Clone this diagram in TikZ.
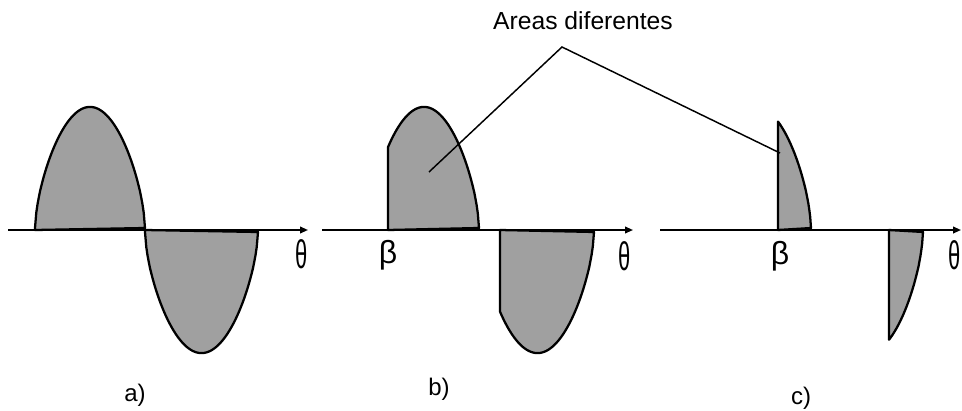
\documentclass[tikz,border=0pt]{standalone}
\usepackage{fontspec}
\setmainfont{Liberation Sans}
\usetikzlibrary{arrows.meta}
\definecolor{lobefill}{RGB}{160,160,160}
\begin{document}
\begin{tikzpicture}[x=0.75pt,y=-0.75pt,
  lobe/.style={fill=lobefill, draw=black, line width=1.7pt, line join=round},
  axisline/.style={draw=black, line width=1.3pt, -{Triangle[length=6pt,width=5pt]}},
  leader/.style={draw=black, line width=1.1pt},
  thetalbl/.style={font=\fontsize{30}{30}\selectfont, inner sep=0pt},
  betalbl/.style={font=\fontsize{24}{24}\selectfont, inner sep=0pt},
  caption/.style={font=\fontsize{18}{18}\selectfont, inner sep=0pt},
  titlelbl/.style={font=\fontsize{18.5}{18.5}\selectfont, inner sep=0pt},
  declare function={lob(\t)=123*exp(0.6*ln(abs(sin(\t))+0.001));}]
\useasboundingbox (0,0) rectangle (962,410);

% ---- panel a ----
\filldraw[lobe] (35,230) -- plot[domain=0:180, samples=90, variable=\t]
  ({35+\t*(110/180)},{230-lob(\t)}) -- cycle;
\filldraw[lobe] (145,230) -- plot[domain=0:180, samples=90, variable=\t]
  ({145+\t*(113/180)},{230+lob(\t)}) -- cycle;

% ---- panel b ----
\filldraw[lobe] (388,230) -- plot[domain=31.1:180, samples=80, variable=\t]
  ({369+\t*(110/180)},{230-lob(\t)}) -- cycle;
\filldraw[lobe] (500,230) -- plot[domain=30.3:180, samples=80, variable=\t]
  ({481+\t*(113/180)},{230+lob(\t)}) -- cycle;

% ---- panel c ----
\filldraw[lobe] (778,230) -- plot[domain=126:180, samples=40, variable=\t]
  ({701+\t*(110/180)},{230-lob(\t)}) -- cycle;
\filldraw[lobe] (889,230) -- plot[domain=124.4:180, samples=40, variable=\t]
  ({813+\t*(110/180)},{230+lob(\t)}) -- cycle;

% ---- axes ----
\coordinate (axA0) at (8,230);   \coordinate (axA1) at (308,230);
\coordinate (axB0) at (322,230); \coordinate (axB1) at (633,230);
\coordinate (axC0) at (660,230); \coordinate (axC1) at (961,230);
\draw[axisline] (axA0) -- (axA1);
\draw[axisline] (axB0) -- (axB1);
\draw[axisline] (axC0) -- (axC1);

% ---- labels ----
\node[thetalbl] (thA) at (302,254) {\scalebox{0.55}[1]{θ}};
\node[thetalbl] (thB) at (625,256) {\scalebox{0.55}[1]{θ}};
\node[thetalbl] (thC) at (955,255) {\scalebox{0.55}[1]{θ}};
\node[betalbl] (beB) at (388,255) {β};
\node[betalbl] (beC) at (780,256) {β};

\node[caption] (capA) at (135,395) {a)};
\node[caption] (capB) at (439,389) {b)};
\node[caption] (capC) at (801,398) {c)};

\node[titlelbl] (title) at (583,21) {Areas diferentes};

% ---- leader lines ----
\coordinate (apex) at (562,47);
\coordinate (endL) at (429,172);
\coordinate (endR) at (780,153);
\draw[leader] (endL) -- (apex) -- (endR);
\end{tikzpicture}
\end{document}
